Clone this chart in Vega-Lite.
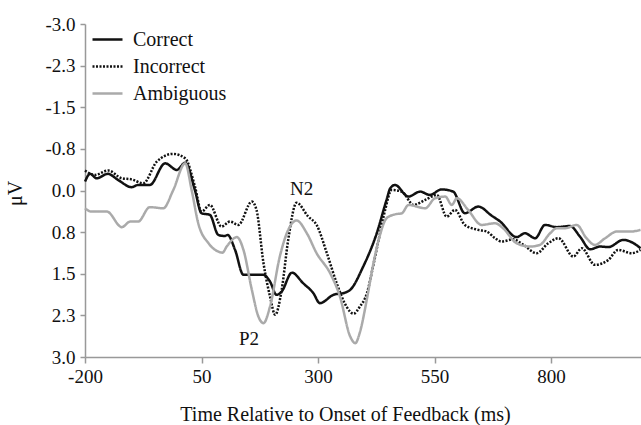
{
  "$schema": "https://vega.github.io/schema/vega-lite/v6.json",
  "width": 556,
  "height": 333,
  "autosize": {"type": "none"},
  "padding": {"left": 85, "top": 24, "right": 0, "bottom": 68},
  "background": "white",
  "config": {
    "view": {"stroke": null},
    "font": "Liberation Serif",
    "axis": {"grid": false, "domainColor": "#999999", "tickColor": "#999999", "domainWidth": 1.5, "tickWidth": 1.5, "labelColor": "#111111", "titleColor": "#111111", "labelFont": "Liberation Serif", "titleFont": "Liberation Serif", "titleFontWeight": "normal", "labelFlush": false, "labelOverlap": false}
  },
  "datasets": {
    "erp": [
      {"t": -200, "v": -0.16, "c": "Correct"},
      {"t": -189, "v": -0.30, "c": "Correct"},
      {"t": -175, "v": -0.22, "c": "Correct"},
      {"t": -151, "v": -0.30, "c": "Correct"},
      {"t": -129, "v": -0.19, "c": "Correct"},
      {"t": -100, "v": -0.06, "c": "Correct"},
      {"t": -86, "v": -0.10, "c": "Correct"},
      {"t": -61, "v": -0.10, "c": "Correct"},
      {"t": -28, "v": -0.49, "c": "Correct"},
      {"t": -3, "v": -0.37, "c": "Correct"},
      {"t": 15, "v": -0.50, "c": "Correct"},
      {"t": 36, "v": 0.0, "c": "Correct"},
      {"t": 50, "v": 0.41, "c": "Correct"},
      {"t": 68, "v": 0.44, "c": "Correct"},
      {"t": 86, "v": 0.80, "c": "Correct"},
      {"t": 100, "v": 0.82, "c": "Correct"},
      {"t": 106, "v": 0.80, "c": "Correct"},
      {"t": 122, "v": 1.07, "c": "Correct"},
      {"t": 140, "v": 1.52, "c": "Correct"},
      {"t": 183, "v": 1.52, "c": "Correct"},
      {"t": 197, "v": 1.64, "c": "Correct"},
      {"t": 211, "v": 1.88, "c": "Correct"},
      {"t": 222, "v": 1.82, "c": "Correct"},
      {"t": 244, "v": 1.48, "c": "Correct"},
      {"t": 268, "v": 1.67, "c": "Correct"},
      {"t": 290, "v": 1.85, "c": "Correct"},
      {"t": 304, "v": 2.03, "c": "Correct"},
      {"t": 333, "v": 1.88, "c": "Correct"},
      {"t": 358, "v": 1.84, "c": "Correct"},
      {"t": 369, "v": 1.79, "c": "Correct"},
      {"t": 397, "v": 1.37, "c": "Correct"},
      {"t": 426, "v": 0.77, "c": "Correct"},
      {"t": 447, "v": 0.17, "c": "Correct"},
      {"t": 455, "v": -0.04, "c": "Correct"},
      {"t": 465, "v": -0.10, "c": "Correct"},
      {"t": 494, "v": 0.11, "c": "Correct"},
      {"t": 519, "v": 0.02, "c": "Correct"},
      {"t": 540, "v": 0.08, "c": "Correct"},
      {"t": 565, "v": -0.02, "c": "Correct"},
      {"t": 590, "v": 0.02, "c": "Correct"},
      {"t": 615, "v": 0.41, "c": "Correct"},
      {"t": 644, "v": 0.29, "c": "Correct"},
      {"t": 672, "v": 0.45, "c": "Correct"},
      {"t": 691, "v": 0.56, "c": "Correct"},
      {"t": 726, "v": 0.84, "c": "Correct"},
      {"t": 744, "v": 0.77, "c": "Correct"},
      {"t": 766, "v": 0.86, "c": "Correct"},
      {"t": 787, "v": 0.62, "c": "Correct"},
      {"t": 812, "v": 0.66, "c": "Correct"},
      {"t": 841, "v": 0.64, "c": "Correct"},
      {"t": 862, "v": 0.83, "c": "Correct"},
      {"t": 884, "v": 1.06, "c": "Correct"},
      {"t": 905, "v": 1.01, "c": "Correct"},
      {"t": 923, "v": 1.02, "c": "Correct"},
      {"t": 955, "v": 0.89, "c": "Correct"},
      {"t": 977, "v": 0.95, "c": "Correct"},
      {"t": 992, "v": 1.04, "c": "Correct"},
      {"t": -200, "v": -0.36, "c": "Incorrect"},
      {"t": -179, "v": -0.28, "c": "Incorrect"},
      {"t": -150, "v": -0.36, "c": "Incorrect"},
      {"t": -121, "v": -0.22, "c": "Incorrect"},
      {"t": -100, "v": -0.20, "c": "Incorrect"},
      {"t": -75, "v": -0.13, "c": "Incorrect"},
      {"t": -46, "v": -0.52, "c": "Incorrect"},
      {"t": -11, "v": -0.66, "c": "Incorrect"},
      {"t": 15, "v": -0.58, "c": "Incorrect"},
      {"t": 36, "v": -0.07, "c": "Incorrect"},
      {"t": 50, "v": 0.38, "c": "Incorrect"},
      {"t": 68, "v": 0.26, "c": "Incorrect"},
      {"t": 93, "v": 0.65, "c": "Incorrect"},
      {"t": 111, "v": 0.56, "c": "Incorrect"},
      {"t": 129, "v": 0.62, "c": "Incorrect"},
      {"t": 158, "v": 0.20, "c": "Incorrect"},
      {"t": 168, "v": 0.35, "c": "Incorrect"},
      {"t": 183, "v": 1.31, "c": "Incorrect"},
      {"t": 197, "v": 1.91, "c": "Incorrect"},
      {"t": 208, "v": 2.24, "c": "Incorrect"},
      {"t": 222, "v": 1.79, "c": "Incorrect"},
      {"t": 236, "v": 0.89, "c": "Incorrect"},
      {"t": 254, "v": 0.22, "c": "Incorrect"},
      {"t": 279, "v": 0.47, "c": "Incorrect"},
      {"t": 297, "v": 0.62, "c": "Incorrect"},
      {"t": 319, "v": 1.13, "c": "Incorrect"},
      {"t": 340, "v": 1.67, "c": "Incorrect"},
      {"t": 361, "v": 2.09, "c": "Incorrect"},
      {"t": 376, "v": 2.22, "c": "Incorrect"},
      {"t": 390, "v": 2.09, "c": "Incorrect"},
      {"t": 405, "v": 1.85, "c": "Incorrect"},
      {"t": 418, "v": 1.37, "c": "Incorrect"},
      {"t": 431, "v": 0.85, "c": "Incorrect"},
      {"t": 444, "v": 0.35, "c": "Incorrect"},
      {"t": 458, "v": -0.01, "c": "Incorrect"},
      {"t": 480, "v": 0.02, "c": "Incorrect"},
      {"t": 505, "v": 0.26, "c": "Incorrect"},
      {"t": 530, "v": 0.17, "c": "Incorrect"},
      {"t": 555, "v": 0.08, "c": "Incorrect"},
      {"t": 576, "v": 0.47, "c": "Incorrect"},
      {"t": 594, "v": 0.35, "c": "Incorrect"},
      {"t": 615, "v": 0.62, "c": "Incorrect"},
      {"t": 644, "v": 0.71, "c": "Incorrect"},
      {"t": 662, "v": 0.74, "c": "Incorrect"},
      {"t": 680, "v": 0.86, "c": "Incorrect"},
      {"t": 694, "v": 0.92, "c": "Incorrect"},
      {"t": 719, "v": 0.88, "c": "Incorrect"},
      {"t": 741, "v": 0.98, "c": "Incorrect"},
      {"t": 769, "v": 1.13, "c": "Incorrect"},
      {"t": 794, "v": 0.95, "c": "Incorrect"},
      {"t": 816, "v": 0.86, "c": "Incorrect"},
      {"t": 848, "v": 1.19, "c": "Incorrect"},
      {"t": 866, "v": 1.04, "c": "Incorrect"},
      {"t": 894, "v": 1.34, "c": "Incorrect"},
      {"t": 923, "v": 1.25, "c": "Incorrect"},
      {"t": 944, "v": 1.07, "c": "Incorrect"},
      {"t": 973, "v": 1.13, "c": "Incorrect"},
      {"t": 992, "v": 1.07, "c": "Incorrect"},
      {"t": -200, "v": 0.32, "c": "Ambiguous"},
      {"t": -186, "v": 0.38, "c": "Ambiguous"},
      {"t": -153, "v": 0.38, "c": "Ambiguous"},
      {"t": -121, "v": 0.66, "c": "Ambiguous"},
      {"t": -103, "v": 0.56, "c": "Ambiguous"},
      {"t": -86, "v": 0.56, "c": "Ambiguous"},
      {"t": -61, "v": 0.30, "c": "Ambiguous"},
      {"t": -32, "v": 0.32, "c": "Ambiguous"},
      {"t": -11, "v": 0.0, "c": "Ambiguous"},
      {"t": 15, "v": -0.49, "c": "Ambiguous"},
      {"t": 29, "v": 0.0, "c": "Ambiguous"},
      {"t": 43, "v": 0.59, "c": "Ambiguous"},
      {"t": 65, "v": 0.95, "c": "Ambiguous"},
      {"t": 86, "v": 1.10, "c": "Ambiguous"},
      {"t": 95, "v": 1.12, "c": "Ambiguous"},
      {"t": 104, "v": 1.01, "c": "Ambiguous"},
      {"t": 126, "v": 0.84, "c": "Ambiguous"},
      {"t": 140, "v": 1.07, "c": "Ambiguous"},
      {"t": 158, "v": 1.79, "c": "Ambiguous"},
      {"t": 172, "v": 2.27, "c": "Ambiguous"},
      {"t": 183, "v": 2.39, "c": "Ambiguous"},
      {"t": 197, "v": 2.09, "c": "Ambiguous"},
      {"t": 218, "v": 1.19, "c": "Ambiguous"},
      {"t": 236, "v": 0.71, "c": "Ambiguous"},
      {"t": 254, "v": 0.54, "c": "Ambiguous"},
      {"t": 276, "v": 0.77, "c": "Ambiguous"},
      {"t": 297, "v": 1.13, "c": "Ambiguous"},
      {"t": 326, "v": 1.49, "c": "Ambiguous"},
      {"t": 347, "v": 1.91, "c": "Ambiguous"},
      {"t": 369, "v": 2.63, "c": "Ambiguous"},
      {"t": 380, "v": 2.75, "c": "Ambiguous"},
      {"t": 390, "v": 2.55, "c": "Ambiguous"},
      {"t": 405, "v": 1.95, "c": "Ambiguous"},
      {"t": 418, "v": 1.35, "c": "Ambiguous"},
      {"t": 433, "v": 0.80, "c": "Ambiguous"},
      {"t": 447, "v": 0.50, "c": "Ambiguous"},
      {"t": 465, "v": 0.43, "c": "Ambiguous"},
      {"t": 480, "v": 0.41, "c": "Ambiguous"},
      {"t": 494, "v": 0.26, "c": "Ambiguous"},
      {"t": 530, "v": 0.32, "c": "Ambiguous"},
      {"t": 551, "v": 0.14, "c": "Ambiguous"},
      {"t": 573, "v": 0.11, "c": "Ambiguous"},
      {"t": 587, "v": 0.26, "c": "Ambiguous"},
      {"t": 598, "v": 0.14, "c": "Ambiguous"},
      {"t": 622, "v": 0.35, "c": "Ambiguous"},
      {"t": 651, "v": 0.62, "c": "Ambiguous"},
      {"t": 680, "v": 0.59, "c": "Ambiguous"},
      {"t": 697, "v": 0.68, "c": "Ambiguous"},
      {"t": 726, "v": 0.95, "c": "Ambiguous"},
      {"t": 755, "v": 1.01, "c": "Ambiguous"},
      {"t": 776, "v": 0.98, "c": "Ambiguous"},
      {"t": 798, "v": 0.77, "c": "Ambiguous"},
      {"t": 812, "v": 0.68, "c": "Ambiguous"},
      {"t": 830, "v": 0.68, "c": "Ambiguous"},
      {"t": 855, "v": 0.62, "c": "Ambiguous"},
      {"t": 876, "v": 0.86, "c": "Ambiguous"},
      {"t": 894, "v": 0.98, "c": "Ambiguous"},
      {"t": 916, "v": 0.86, "c": "Ambiguous"},
      {"t": 941, "v": 0.74, "c": "Ambiguous"},
      {"t": 970, "v": 0.74, "c": "Ambiguous"},
      {"t": 992, "v": 0.71, "c": "Ambiguous"}
    ],
    "labels": [
      {"t": 265, "v": 0.08, "label": "N2"},
      {"t": 152, "v": 2.78, "label": "P2"}
    ]
  },
  "layer": [
    {
      "data": {"name": "erp"},
      "mark": {"type": "line", "strokeWidth": 2.5, "interpolate": "monotone"},
      "encoding": {
        "x": {
          "field": "t", "type": "quantitative",
          "scale": {"domain": [-200, 993], "nice": false, "zero": false},
          "axis": {"values": [-200, 50, 300, 550, 800], "labelExpr": "'' + datum.value", "labelFontSize": 19, "tickSize": 6, "labelPadding": 4, "title": "Time Relative to Onset of Feedback (ms)", "titleFontSize": 20, "titleX": 260, "titleY": 63, "titleBaseline": "alphabetic", "titleAnchor": "middle", "titleAlign": "center"}
        },
        "y": {
          "field": "v", "type": "quantitative",
          "scale": {"domain": [-3, 3], "reverse": true, "nice": false, "zero": false},
          "axis": {"values": [-3, -2.25, -1.5, -0.75, 0, 0.75, 1.5, 2.25, 3], "labelExpr": "replace(format(datum.value, '.1f'), '\u2212', '-')", "labelFontSize": 19, "tickSize": 5, "labelPadding": 5, "title": "μV", "titleFontSize": 20, "titleX": -70, "titleY": 169, "titleAngle": -90, "titleAlign": "center", "titleBaseline": "middle"}
        },
        "color": {
          "field": "c", "type": "nominal",
          "scale": {"domain": ["Correct", "Incorrect", "Ambiguous"], "range": ["#111111", "#111111", "#aaaaaa"]},
          "legend": {"title": null, "orient": "none", "legendX": 6, "legendY": -1, "symbolType": "stroke", "symbolSize": 900, "symbolStrokeWidth": 2.5, "labelFont": "Liberation Serif", "labelFontSize": 20, "labelColor": "#111111", "labelOffset": 9, "rowPadding": -5, "padding": 0}
        },
        "strokeDash": {
          "field": "c", "type": "nominal",
          "scale": {"domain": ["Correct", "Incorrect", "Ambiguous"], "range": [[1, 0], [2, 1.5], [1, 0]]},
          "legend": {"title": null, "orient": "none", "legendX": 6, "legendY": -1, "symbolType": "stroke", "symbolSize": 900, "symbolStrokeWidth": 2.5, "labelFont": "Liberation Serif", "labelFontSize": 20, "labelColor": "#111111", "labelOffset": 9, "rowPadding": -5, "padding": 0}
        }
      }
    },
    {
      "data": {"name": "labels"},
      "mark": {"type": "text", "font": "Liberation Serif", "fontSize": 19, "align": "center", "baseline": "alphabetic", "color": "#111111"},
      "encoding": {
        "x": {"field": "t", "type": "quantitative"},
        "y": {"field": "v", "type": "quantitative"},
        "text": {"field": "label"}
      }
    }
  ]
}
